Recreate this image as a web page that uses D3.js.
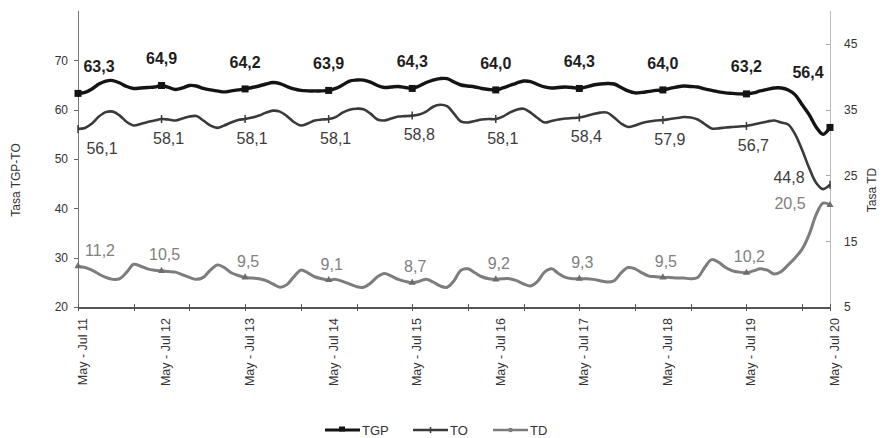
<!DOCTYPE html>
<html lang="es">
<head>
<meta charset="UTF-8">
<title>Tasas TGP, TO y TD</title>
<script src="https://d3js.org/d3.v7.min.js"></script>
<style>
    body, html { margin: 0; background: #fff; }
    svg { display: block; font-family: "Liberation Sans", Arial, sans-serif; }
    .axis path, .axis line { shape-rendering: crispEdges; }
</style>
</head>
<body>
<div id="chart"></div>
<script>
    // rolling quarters May-Jul 11 ... May-Jul 20
    var months = ["Ene", "Feb", "Mar", "Abr", "May", "Jun", "Jul", "Ago", "Sep", "Oct", "Nov", "Dic"];
    var categories = [];
    for (var k = 0; k <= 108; k++) {
        var s = (4 + k) % 12, e = (6 + k) % 12, yy = 11 + Math.floor((6 + k) / 12);
        categories.push(months[s] + " - " + months[e] + " " + yy);
    }
    var labelEvery = 12;   // text on x axis and data labels
    var tickEvery = 8;     // small marks on x axis

    var tgp = [
        63.3, 63.5, 64.2, 65.2, 65.8, 65.9, 65.4, 64.7, 64.3, 64.4, 64.5, 64.6,
        64.9, 64.5, 64.1, 64.4, 64.9, 64.8, 64.3, 64.0, 63.8, 63.6, 63.8, 64.0,
        64.2, 64.5, 64.8, 65.2, 65.5, 65.3, 64.7, 64.2, 63.9, 63.8, 63.8, 63.8,
        63.9, 64.3, 65.0, 65.8, 66.0, 66.0, 65.6, 64.9, 64.5, 64.6, 64.7, 64.5,
        64.3, 64.8, 65.5, 66.0, 66.3, 66.3, 65.6, 65.0, 64.8, 64.6, 64.3, 64.1,
        64.0, 64.4, 64.9, 65.4, 65.8, 65.7, 65.1, 64.6, 64.4, 64.5, 64.6, 64.5,
        64.3, 64.6, 65.0, 65.2, 65.3, 65.2, 64.5, 63.8, 63.4, 63.5, 63.7, 63.9,
        64.0, 64.3, 64.6, 64.8, 64.7, 64.6, 64.2, 63.9, 63.6, 63.4, 63.3, 63.2,
        63.2, 63.4, 63.8, 64.1, 64.4, 64.4, 64.0, 63.0, 61.0, 59.0, 56.5, 55.0,
        56.4
    ];
    var to = [
        56.1, 56.3, 57.2, 58.6, 59.5, 59.6, 58.8, 57.5, 56.8, 57.1, 57.5, 57.8,
        58.1, 58.0, 57.8, 58.2, 58.6, 58.7, 57.8, 56.8, 56.3, 56.8, 57.4, 57.9,
        58.1, 58.4, 58.8, 59.4, 59.8, 59.6, 58.7, 57.5, 56.8, 57.2, 57.8, 58.0,
        58.1, 58.5, 59.4, 60.0, 60.2, 60.1, 59.2, 58.0, 57.8, 58.2, 58.6, 58.7,
        58.8, 59.0, 59.6, 60.6, 61.0, 60.7, 59.2, 57.6, 57.4, 57.7, 58.0, 58.1,
        58.1, 58.6, 59.4, 60.0, 60.2, 59.4, 58.3, 57.4, 57.7, 58.0, 58.2, 58.3,
        58.4, 58.7, 59.1, 59.4, 59.4, 58.4, 57.2, 56.5, 56.8, 57.3, 57.6, 57.8,
        57.9, 58.1, 58.3, 58.5, 58.4, 58.0, 57.1, 56.2, 56.2, 56.4, 56.5, 56.6,
        56.7, 57.0, 57.3, 57.6, 57.8, 57.4, 57.0, 55.0, 51.8, 48.2, 45.2, 43.9,
        44.8
    ];
    var td = [
        11.2, 11.0, 10.6, 10.0, 9.5, 9.2, 9.3, 10.3, 11.5, 11.2, 10.8, 10.6,
        10.5, 10.4, 10.3, 9.9, 9.5, 9.2, 9.5, 10.6, 11.4, 11.0, 10.2, 9.8,
        9.5, 9.4, 9.3, 9.0, 8.5, 8.0, 8.4, 9.6, 10.6, 10.2, 9.6, 9.3,
        9.1, 9.2, 8.9, 8.5, 8.1, 8.0, 8.6, 9.6, 10.1, 9.7, 9.2, 8.9,
        8.7, 8.9, 9.2, 8.8, 8.2, 8.0, 9.0, 10.6, 10.8, 10.2, 9.6, 9.3,
        9.2, 9.3, 9.3, 9.0, 8.5, 8.2, 8.9, 10.3, 10.8, 10.1, 9.5, 9.3,
        9.3, 9.3, 9.2, 9.0, 8.8, 9.0, 10.2, 11.0, 10.8, 10.2, 9.7, 9.6,
        9.5, 9.5, 9.4, 9.4, 9.3, 9.5, 11.0, 12.2, 11.8, 11.0, 10.5, 10.3,
        10.2, 10.5, 10.8, 10.6, 10.0, 10.4, 11.4, 12.5, 13.8, 16.0, 19.0, 20.8,
        20.5
    ];
    var leftTicks = [20, 30, 40, 50, 60, 70];
    var rightTicks = [5, 15, 25, 35, 45];
    var seriesNames = ["TGP", "TO", "TD"];

    var width = 883, height = 438;
    var plotL = 78, plotR = 830, plotT = 11, plotB = 307;

    var svg = d3.select("#chart").append("svg").attr("width", width).attr("height", height);

    var x = d3.scalePoint().domain(categories).range([plotL, plotR]);
    var yL = d3.scaleLinear().domain([20, 80]).range([plotB, plotT]);
    var yR = d3.scaleLinear().domain([5, 50]).range([plotB, plotT]);

    // axes
    var axL = svg.append("g").attr("class", "axis").attr("transform", "translate(" + plotL + ",0)")
        .call(d3.axisLeft(yL).tickValues(leftTicks).tickSize(4).tickPadding(6));
    var axR = svg.append("g").attr("class", "axis").attr("transform", "translate(" + plotR + ",0)")
        .call(d3.axisRight(yR).tickValues(rightTicks).tickSize(-4).tickPadding(14));
    var axX = svg.append("g").attr("class", "axis").attr("transform", "translate(0," + plotB + ")")
        .call(d3.axisBottom(x).tickValues(categories.filter((d, i) => i % tickEvery === 0 || i === categories.length - 1))
            .tickFormat("").tickSizeInner(4).tickSizeOuter(0));
    var axXLab = svg.append("g").attr("transform", "translate(0," + plotB + ")")
        .call(d3.axisBottom(x).tickValues(categories.filter((d, i) => i % labelEvery === 0)).tickSize(0).tickPadding(0));
    axXLab.select(".domain").remove();
    axXLab.selectAll("text")
        .attr("transform", "rotate(-90)")
        .attr("x", -11).attr("y", 4).attr("dy", "0.35em")
        .style("text-anchor", "end")
        .attr("font-size", 12.5).attr("fill", "#333");

    axL.select(".domain").attr("stroke", "#777").attr("d", "M0," + plotT + "V" + plotB);
    axR.select(".domain").attr("stroke", "#bbb").attr("d", "M0," + plotT + "V" + plotB);
    axX.select(".domain").attr("stroke", "#555").attr("stroke-width", 2);
    axL.selectAll("line").attr("stroke", "#666");
    axR.selectAll("line").attr("stroke", "#aaa");
    axX.selectAll("line").attr("stroke", "#555").attr("y1", -3);
    axL.selectAll("text").attr("font-size", 12).attr("fill", "#333");
    axR.selectAll("text").attr("font-size", 12).attr("fill", "#333");

    svg.append("text").attr("transform", "translate(20,180) rotate(-90)")
        .attr("text-anchor", "middle").attr("font-size", 12).attr("fill", "#333").text("Tasa TGP-TO");
    svg.append("text").attr("transform", "translate(876,190) rotate(-90)")
        .attr("text-anchor", "middle").attr("font-size", 12).attr("fill", "#333").text("Tasa TD");

    // series
    function drawSeries(values, yScale, color, w) {
        var line = d3.line().x((d, i) => x(categories[i])).y(d => yScale(d)).curve(d3.curveCatmullRom);
        svg.append("path").datum(values).attr("fill", "none")
            .attr("stroke", color).attr("stroke-width", w).attr("stroke-linejoin", "round")
            .attr("d", line);
    }
    drawSeries(td, yR, "#7d7d7d", 3);
    drawSeries(to, yL, "#3a3a3a", 2.6);
    drawSeries(tgp, yL, "#141414", 3.4);

    var marked = d3.range(0, categories.length, labelEvery);
    var fmt = v => d3.format(".1f")(v).replace(".", ",");

    // markers
    svg.append("g").selectAll("rect").data(marked).join("rect")
        .attr("x", i => x(categories[i]) - 3.5).attr("y", i => yL(tgp[i]) - 3.5)
        .attr("width", 7).attr("height", 7).attr("fill", "#141414");
    svg.append("g").selectAll("path").data(marked).join("path")
        .attr("d", i => "M" + x(categories[i]) + "," + (yL(to[i]) - 4) + "v8")
        .attr("stroke", "#3a3a3a").attr("stroke-width", 1.5);
    svg.append("g").selectAll("path").data(marked).join("path")
        .attr("d", d3.symbol(d3.symbolTriangle, 22))
        .attr("transform", i => "translate(" + x(categories[i]) + "," + yR(td[i]) + ")")
        .attr("fill", "#6d6d6d");

    // data labels
    var last = categories.length - 1;
    svg.append("g").selectAll("text").data(marked).join("text")
        .attr("x", i => x(categories[i]) + (i === 0 ? 21 : i === last ? -22 : 0))
        .attr("y", i => yL(tgp[i]) + (i === last ? -55 : -27))
        .attr("dy", "0.35em").attr("text-anchor", "middle")
        .attr("font-size", 16).attr("font-weight", "bold").attr("fill", "#1e1e1e")
        .text(i => fmt(tgp[i]));
    svg.append("g").selectAll("text").data(marked).join("text")
        .attr("x", i => x(categories[i]) + (i === 0 ? 24 : i === last ? -41 : 7))
        .attr("y", i => yL(to[i]) + (i === last ? -7 : 19))
        .attr("dy", "0.35em").attr("text-anchor", "middle")
        .attr("font-size", 16).attr("fill", "#3c3c3c")
        .text(i => fmt(to[i]));
    svg.append("g").selectAll("text").data(marked).join("text")
        .attr("x", i => x(categories[i]) + (i === 0 ? 22 : i === last ? -40 : 3))
        .attr("y", i => yR(td[i]) + (i === last ? -2 : -16))
        .attr("dy", "0.35em").attr("text-anchor", "middle")
        .attr("font-size", 16).attr("fill", "#808080")
        .text(i => fmt(td[i]));

    // legend
    var legend = svg.append("g").attr("transform", "translate(325,430)");
    var legendItems = [
        { name: seriesNames[0], x: 0, color: "#141414", w: 3, mark: "square" },
        { name: seriesNames[1], x: 88, color: "#3a3a3a", w: 2.5, mark: "tick" },
        { name: seriesNames[2], x: 168, color: "#7d7d7d", w: 2.5, mark: "tri" }
    ];
    legendItems.forEach(function (d) {
        var g = legend.append("g").attr("transform", "translate(" + d.x + ",0)");
        g.append("line").attr("x1", 0).attr("x2", 35).attr("stroke", d.color).attr("stroke-width", d.w);
        if (d.mark === "square") g.append("rect").attr("x", 14).attr("y", -3.5).attr("width", 6).attr("height", 5).attr("fill", d.color);
        if (d.mark === "tick") g.append("line").attr("x1", 17.5).attr("x2", 17.5).attr("y1", -3).attr("y2", 3).attr("stroke", d.color).attr("stroke-width", 1.5);
        if (d.mark === "tri") g.append("path").attr("d", d3.symbol(d3.symbolCircle, 16)).attr("transform", "translate(17.5,0)").attr("fill", d.color);
        g.append("text").attr("x", 37).attr("dy", "0.35em").attr("font-size", 13).attr("fill", "#333").text(d.name);
    });
</script>
</body>
</html>
